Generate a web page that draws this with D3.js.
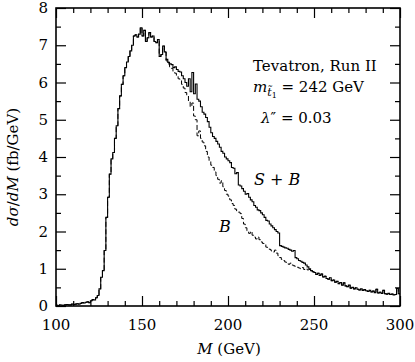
<!DOCTYPE html>
<meta charset="utf-8">
<script src="https://d3js.org/d3.v7.min.js"></script>
<style>
  body { margin: 0; background: #fff; }
  svg text { font-family: "DejaVu Serif", serif; fill: #000; }
</style>
<div id="my_dataviz"></div>
<script>
// histogram bins: 1 GeV wide, lower edges 100 .. 299
var binStart = 100, binWidth = 1;

// S + B (solid)
var sigPlusBkg = [
  0.02,0.01,0.03,0.02,0.02,0.03,0.04,0.03,0.03,0.05,
  0.04,0.05,0.06,0.05,0.07,0.09,0.08,0.10,0.11,0.09,
  0.14,0.17,0.16,0.22,0.28,0.46,0.77,0.95,1.49,2.38,
  2.92,3.54,3.95,4.12,4.50,4.84,5.30,5.64,5.95,6.18,
  6.40,6.55,6.70,6.85,7.00,7.25,7.28,7.22,7.30,7.47,
  7.25,7.40,7.10,7.20,7.34,7.22,7.25,7.10,7.07,7.15,
  6.70,6.75,6.98,6.82,6.62,6.54,6.50,6.48,6.40,6.42,
  6.35,6.30,6.28,6.18,6.10,6.00,5.90,6.10,5.75,6.27,
  5.70,5.96,5.55,5.50,5.35,5.20,5.15,5.06,4.95,4.80,
  4.65,4.55,4.50,4.42,4.35,4.26,4.15,4.10,4.00,3.95,
  3.90,3.85,3.72,3.70,3.55,3.58,3.25,3.22,3.15,3.08,
  3.00,3.02,2.92,2.85,2.80,2.70,2.65,2.58,2.56,2.50,
  2.45,2.38,2.30,2.28,2.20,2.15,2.10,2.05,2.00,1.96,
  1.62,1.60,1.58,1.56,1.55,1.52,1.50,1.47,1.49,1.30,
  1.27,1.22,1.20,1.17,1.15,1.10,1.05,1.00,0.95,0.92,
  0.90,0.85,0.88,0.82,0.86,0.78,0.80,0.74,0.72,0.76,
  0.68,0.70,0.64,0.66,0.60,0.63,0.56,0.62,0.54,0.52,
  0.56,0.48,0.50,0.46,0.49,0.45,0.43,0.46,0.42,0.44,
  0.41,0.39,0.42,0.38,0.40,0.36,0.45,0.35,0.37,0.34,
  0.42,0.33,0.32,0.34,0.31,0.32,0.30,0.31,0.47,0.33
];

// B only (dashed)
var bkgOnly = [
  0.02,0.01,0.03,0.02,0.02,0.03,0.04,0.03,0.03,0.05,
  0.04,0.05,0.06,0.05,0.07,0.09,0.08,0.10,0.11,0.09,
  0.14,0.17,0.16,0.22,0.28,0.46,0.77,0.95,1.49,2.38,
  2.92,3.54,3.95,4.12,4.50,4.84,5.30,5.64,5.95,6.18,
  6.40,6.55,6.70,6.85,7.00,7.25,7.28,7.22,7.30,7.47,
  7.25,7.40,7.10,7.20,7.34,7.22,7.25,7.10,7.07,7.15,
  6.70,6.75,6.98,6.82,6.58,6.50,6.42,6.38,6.30,6.25,
  6.18,6.10,6.05,5.95,5.85,5.73,5.65,5.50,5.35,5.45,
  5.10,5.00,4.57,4.70,4.50,4.40,4.30,4.15,4.00,3.90,
  3.78,3.72,3.60,3.50,3.40,3.30,3.36,3.20,3.10,3.00,
  2.95,2.85,2.75,2.70,2.60,2.55,2.52,2.48,2.35,2.20,
  2.10,2.02,1.95,2.00,1.90,1.85,1.80,1.85,1.78,1.72,
  1.68,1.65,1.58,1.55,1.52,1.48,1.45,1.50,1.42,1.35,
  1.30,1.25,1.22,1.18,1.15,1.12,1.15,1.10,1.08,1.05,
  1.04,1.02,1.00,1.03,0.98,1.00,0.97,0.98,0.95,0.92,
  0.90,0.85,0.88,0.82,0.86,0.78,0.80,0.74,0.72,0.76,
  0.68,0.70,0.64,0.66,0.60,0.63,0.56,0.62,0.54,0.52,
  0.56,0.48,0.50,0.46,0.49,0.45,0.43,0.46,0.42,0.44,
  0.41,0.39,0.42,0.38,0.40,0.36,0.45,0.35,0.37,0.34,
  0.42,0.33,0.32,0.34,0.31,0.32,0.30,0.31,0.47,0.33
];

var xTicks = [100, 150, 200, 250, 300];
var yTicks = [0, 1, 2, 3, 4, 5, 6, 7, 8];

var totalW = 415, totalH = 362;
var margin = {top: 8, right: 15, bottom: 56, left: 56};
var width = totalW - margin.left - margin.right,
    height = totalH - margin.top - margin.bottom;

var svg = d3.select("#my_dataviz")
  .append("svg")
    .attr("width", totalW)
    .attr("height", totalH)
  .append("g")
    .attr("transform", "translate(" + margin.left + "," + margin.top + ")");

var x = d3.scaleLinear().domain([100, 300]).range([0, width]);
var y = d3.scaleLinear().domain([0, 8]).range([height, 0]);

// inward ticks on all four sides, major + minor
var xMinor = d3.range(100, 301, 10).filter(function(d){ return d % 50 != 0; });
var yMinor = d3.range(0.5, 8, 1);
function drawTicks(axisFn, scale, vals, len, transform) {
  svg.append("g")
    .attr("transform", transform)
    .call(axisFn(scale).tickValues(vals).tickSize(len).tickFormat(""))
    .call(function(g){ g.select(".domain").remove(); })
    .selectAll("line").attr("stroke", "#000").attr("stroke-width", 1.2);
}
drawTicks(d3.axisTop, x, xTicks, 10, "translate(0," + height + ")");
drawTicks(d3.axisTop, x, xMinor, 5, "translate(0," + height + ")");
drawTicks(d3.axisBottom, x, xTicks, 10, "translate(0,0)");
drawTicks(d3.axisBottom, x, xMinor, 5, "translate(0,0)");
drawTicks(d3.axisRight, y, yTicks, 10, "translate(0,0)");
drawTicks(d3.axisRight, y, yMinor, 5, "translate(0,0)");
drawTicks(d3.axisLeft, y, yTicks, 10, "translate(" + width + ",0)");
drawTicks(d3.axisLeft, y, yMinor, 5, "translate(" + width + ",0)");

// tick labels
svg.selectAll(".xlab").data(xTicks).enter().append("text")
  .attr("x", function(d){ return x(d); })
  .attr("y", height + 24)
  .attr("text-anchor", "middle")
  .style("font-size", "15px")
  .text(function(d){ return d; });
svg.selectAll(".ylab").data(yTicks).enter().append("text")
  .attr("x", -8)
  .attr("y", function(d){ return Math.max(y(d) + 5, 5); })
  .attr("text-anchor", "end")
  .style("font-size", "15px")
  .text(function(d){ return d; });

// histograms as steps
function stepPath(vals) {
  var pts = vals.map(function(v, i){ return [binStart + i * binWidth, v]; });
  pts.push([binStart + vals.length * binWidth, vals[vals.length - 1]]);
  return d3.line()
    .x(function(d){ return x(d[0]); })
    .y(function(d){ return y(d[1]); })
    .curve(d3.curveStepAfter)(pts);
}
svg.append("path")
  .attr("d", stepPath(bkgOnly))
  .attr("fill", "none")
  .attr("stroke", "#000")
  .attr("stroke-width", 1)
  .attr("stroke-dasharray", "5,2.5");
svg.append("path")
  .attr("d", stepPath(sigPlusBkg))
  .attr("fill", "none")
  .attr("stroke", "#000")
  .attr("stroke-width", 1.1);

// frame
svg.append("rect")
  .attr("width", width).attr("height", height)
  .attr("fill", "none").attr("stroke", "#000").attr("stroke-width", 1.6);

// axis titles
var xt = svg.append("text")
  .attr("x", width / 2 + 1).attr("y", height + 48)
  .attr("text-anchor", "middle").style("font-size", "15px");
xt.append("tspan").style("font-style", "italic").text("M");
xt.append("tspan").text(" (GeV)");

var yt = svg.append("text")
  .attr("transform", "translate(-38," + (height / 2 + 10) + ") rotate(-90)")
  .attr("text-anchor", "middle").style("font-size", "15px");
yt.append("tspan").style("font-style", "italic").text("dσ");
yt.append("tspan").text("/");
yt.append("tspan").style("font-style", "italic").text("dM");
yt.append("tspan").text(" (fb/GeV)");

// annotations
svg.append("text").attr("x", 197).attr("y", 63)
  .style("font-size", "15px").text("Tevatron, Run II");
var mt = svg.append("text").attr("x", 197).attr("y", 84).style("font-size", "15px");
mt.append("tspan").style("font-style", "italic").text("m");
mt.append("tspan").attr("dy", 4).style("font-size", "11px").style("font-style", "italic").text("t\u0303");
mt.append("tspan").attr("dy", 2).style("font-size", "8px").text("1");
mt.append("tspan").attr("dy", -6).text(" = 242 GeV");
var lt = svg.append("text").attr("x", 205).attr("y", 115).style("font-size", "15px");
lt.append("tspan").style("font-style", "italic").text("λ");
lt.append("tspan").text("″ = 0.03");

var sbt = svg.append("text").attr("x", 198).attr("y", 177).style("font-size", "16px");
sbt.append("tspan").style("font-style", "italic").text("S");
sbt.append("tspan").text(" + ");
sbt.append("tspan").style("font-style", "italic").text("B");
svg.append("text").attr("x", 163).attr("y", 224)
  .style("font-size", "16px").style("font-style", "italic").text("B");
</script>
